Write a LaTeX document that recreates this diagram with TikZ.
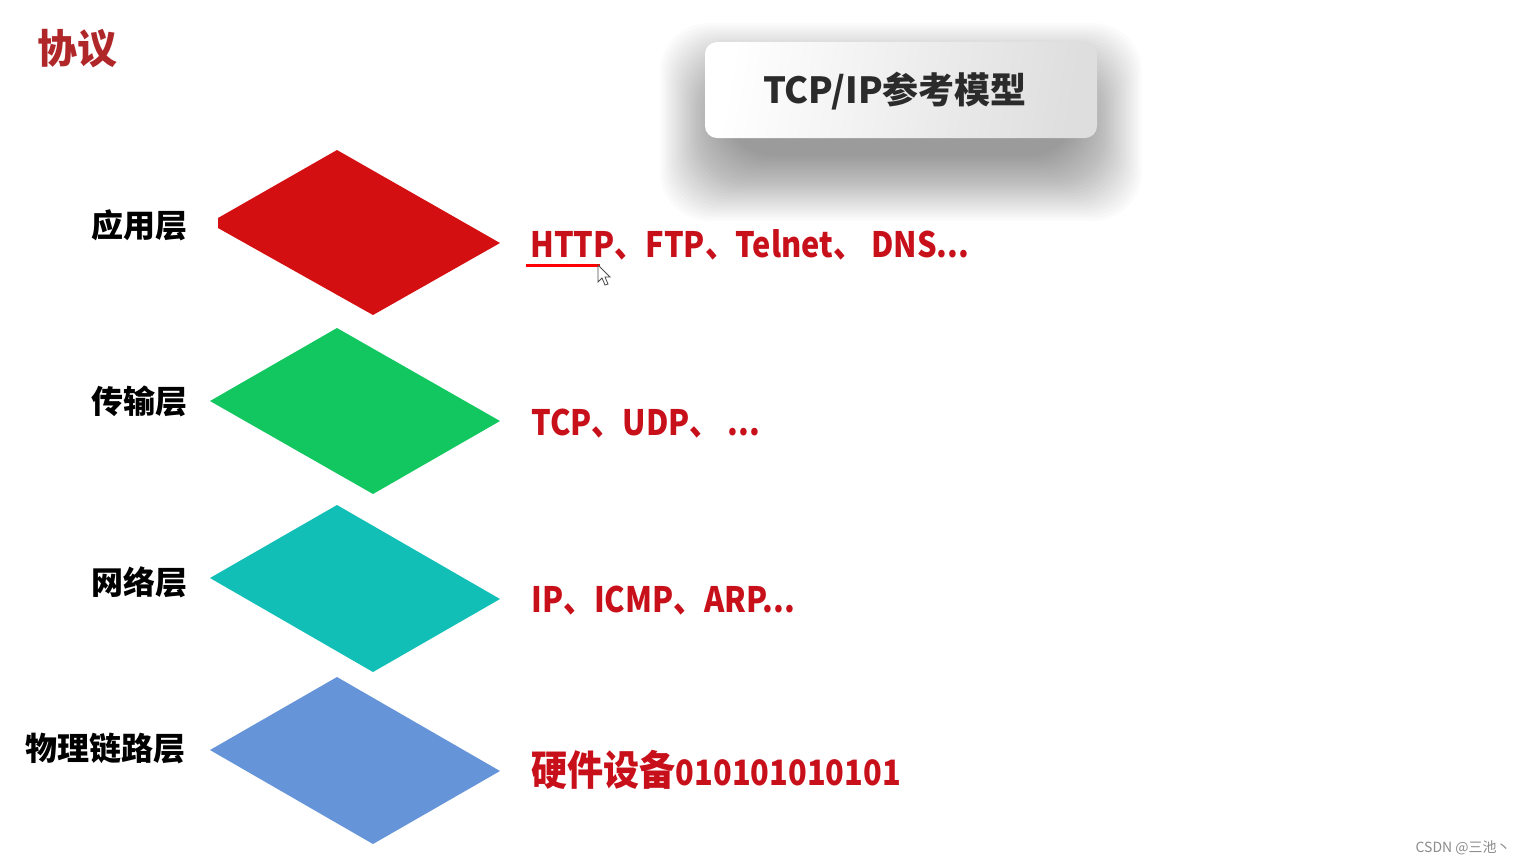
\documentclass[tikz,border=0pt]{standalone}
\usepackage{fontspec}
\setmainfont{Noto Sans CJK SC}
\newfontfamily\wmfont{Noto Sans CJK SC}
\newfontfamily\protofont[FakeStretch=0.88]{Noto Sans CJK SC}
\definecolor{appred}{HTML}{D40F12}
\definecolor{trgreen}{HTML}{13C760}
\definecolor{netteal}{HTML}{12BFB6}
\definecolor{phyblue}{HTML}{6595D8}
\definecolor{protored}{HTML}{C8101A}
\definecolor{headred}{HTML}{B0272A}
\definecolor{titlegray}{HTML}{2B2B2B}
\tikzset{
  layerlabel/.style={anchor=east, font=\fontsize{16}{18}\selectfont\bfseries, text=black, inner sep=0pt},
  prototext/.style={anchor=base west, font=\protofont\fontsize{17.5}{20}\selectfont\bfseries, text=protored, inner sep=0pt},
  titlebox/.style={rounded corners=6pt, minimum width=196pt, minimum height=48pt,
    left color=white, right color=black!13, shading angle=80, inner sep=0pt},
  titletext/.style={font=\fontsize{18}{20}\selectfont\bfseries, text=titlegray, inner sep=0pt},
  shadowlayer/.style={fill=black, opacity=0.016, rounded corners=24pt},
}
\begin{document}
\begin{tikzpicture}[x=0.5pt,y=-0.5pt]
\fill[white] (0,0) rectangle (1524,864);
\useasboundingbox (0,0) rectangle (1524,864);
% heading
\node[anchor=west, inner sep=0pt, font=\fontsize{20}{22}\selectfont\bfseries, text=headred] (head) at (37,49) {协议};
% soft shadow of the title box
\foreach \k in {0,...,27}{
  \fill[shadowlayer] ({901-176-\k*2.4},{122-34-\k*2.4}) rectangle ({901+176+\k*2.4},{122+34+\k*2.4});
}
% title box
\node[titlebox] (title) at (901,90) {};
\node[titletext] (ttext) at (895,91) {TCP/IP参考模型};
% layers
\fill[appred] (337,150) -- (500,243) -- (373,315) -- (218,228) -- (218,218) -- cycle;
\fill[trgreen] (337,328) -- (500,421) -- (373,494) -- (210,401) -- cycle;
\fill[netteal] (337,505) -- (500,599) -- (373,672) -- (210,578) -- cycle;
\fill[phyblue] (337,677) -- (500,771) -- (373,844) -- (210,750) -- cycle;
% layer labels
\node[layerlabel] (l1) at (188,225) {应用层};
\node[layerlabel] (l2) at (188,401) {传输层};
\node[layerlabel] (l3) at (188,582) {网络层};
\node[layerlabel] (l4) at (186,748) {物理链路层};
% protocols
\node[prototext] (p1) at (530,257) {HTTP、FTP、Telnet、 DNS...};
\node[prototext] (p2) at (531,435) {TCP、UDP、 ...};
\node[prototext] (p3) at (531,612) {IP、ICMP、ARP...};
\node[prototext] (p4) at (531,785) {{\fontsize{20.5}{22}\selectfont 硬件设备}010101010101};
% underline and cursor
\draw[red, line width=1.5pt] (526,265) -- (600,265);
\draw[fill=white, draw=black!70, line width=0.4pt, line join=miter]
  (598,265) -- (598,282) -- (602,278) -- (605,285) -- (608,284) -- (605,277) -- (610,277) -- cycle;
% watermark
\node[anchor=east, inner sep=0pt, font=\wmfont\fontsize{7}{8}\selectfont, text=black!45] (wm) at (1511,848) {CSDN @三池丶};
\end{tikzpicture}
\end{document}
